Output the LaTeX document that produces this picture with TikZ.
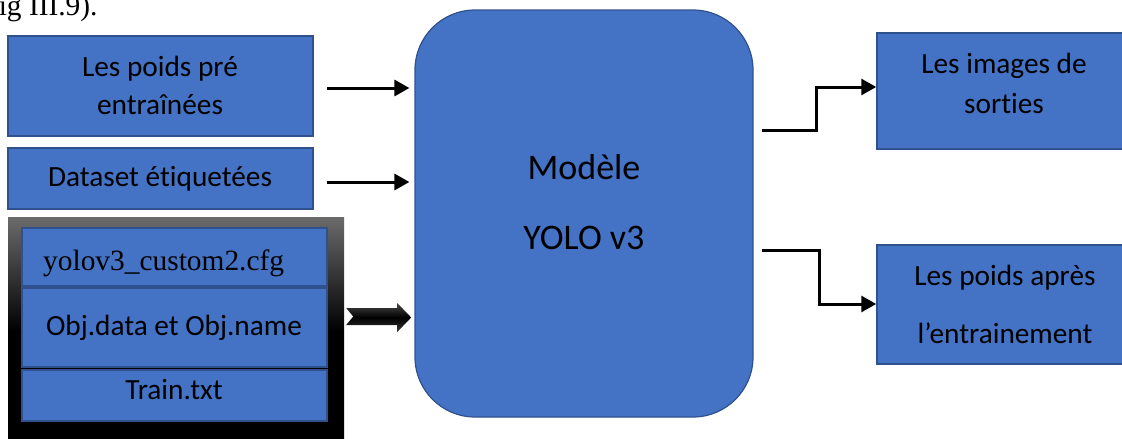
\documentclass[tikz,border=0pt]{standalone}
\usepackage{fontspec}
\setmainfont{Carlito}[Ligatures=NoCommon]
\newfontfamily\timesfont{Liberation Serif}
\usetikzlibrary{arrows.meta,calc}
\definecolor{boxblue}{HTML}{4472C4}
\definecolor{boxedge}{HTML}{2F528F}
\begin{document}
\begin{tikzpicture}[x=1pt,y=-1pt,
  bluebox/.style={rectangle, fill=boxblue, draw=boxedge, line width=1.5pt, inner sep=0pt},
  lbl/.style={anchor=base, inner sep=0pt, font=\fontsize{29.3}{29.3}\selectfont},
  serif/.style={anchor=base west, inner sep=0pt, font=\timesfont\fontsize{29.4}{29.4}\selectfont},
  flow/.style={line width=3pt, -{Triangle[length=15pt,width=16pt]}},
]
\useasboundingbox (0,0) rectangle (1122,439);

% trailing line of the surrounding paragraph
\node[serif] (figref) at (-21,16) {(fig III.9).};

% inputs
\node[bluebox, minimum width=305pt, minimum height=100pt] (pre) at (160.5,86) {};
\node[lbl] (pre1) at (160,76) {Les poids pré};
\node[lbl] (pre2) at (160,114) {entraînées};

\node[bluebox, minimum width=305pt, minimum height=61pt] (data) at (160.5,178.5) {};
\node[lbl] (data1) at (160,186) {Dataset étiquetées};

% configuration files group
\node[rectangle, inner sep=0pt, minimum width=336pt, minimum height=228pt,
      top color=black!58, bottom color=black, middle color=black] (cont) at (176,331) {};
\node[bluebox, minimum width=305pt, minimum height=58pt] (cfg) at (174.5,257) {};
\node[serif] (cfg1) at (43,270) {yolov3\_custom2.cfg};
\node[bluebox, minimum width=305pt, minimum height=79pt] (obj) at (174.5,327.5) {};
\node[lbl] (obj1) at (174,335) {Obj.data et Obj.name};
\node[bluebox, minimum width=305pt, minimum height=51pt] (train) at (174.5,395.5) {};
\node[lbl] (train1) at (174,399) {Train.txt};

% model
\node[bluebox, line width=1.2pt, rounded corners=60pt, minimum width=338pt, minimum height=407pt] (yolo) at (584,213.5) {};
\node[lbl, font=\fontsize{36}{36}\selectfont] (yolo1) at (584,179) {Modèle};
\node[lbl, font=\fontsize{36}{36}\selectfont] (yolo2) at (584,249) {YOLO v3};

% outputs
\node[bluebox, minimum width=253pt, minimum height=116pt] (img) at (1003.5,91) {};
\node[lbl] (img1) at (1004,73) {Les images de};
\node[lbl] (img2) at (1004,113) {sorties};

\node[bluebox, minimum width=253pt, minimum height=119pt] (apres) at (1003.5,304.5) {};
\node[lbl] (apres1) at (1005,285) {Les poids après};
\node[lbl] (apres2) at (1005,343) {l’entrainement};

% connectors into the model
\draw[flow, shorten <=13pt, shorten >=5pt] ([yshift=-2pt]pre.east) -- ([yshift=-2pt]pre.east -| yolo.west);
\draw[flow, shorten <=13pt, shorten >=5pt] ([yshift=-3.5pt]data.east) -- ([yshift=-3.5pt]data.east -| yolo.west);

% block arrow from the configuration files
\shade[top color=black!72, bottom color=black!78, middle color=black]
  ($(cont.east)+(2,-23)$) -- ++(51,0) -- ++(0,-5) -- ++(14,14.5) -- ++(-14,14.5)
  -- ++(0,-7) -- ++(-51,0) -- ++(7,-8.5) -- cycle;

% connectors out of the model
\coordinate (k1) at (816,87);
\coordinate (k0) at (0,130);
\draw[flow, shorten <=8pt] (yolo.east |- k0) -| (k1) -- (img.west |- k1);
\coordinate (k3) at (819,304);
\coordinate (k2) at (0,250);
\draw[flow, shorten <=8pt] (yolo.east |- k2) -| (k3) -- (apres.west |- k3);
\end{tikzpicture}
\end{document}
